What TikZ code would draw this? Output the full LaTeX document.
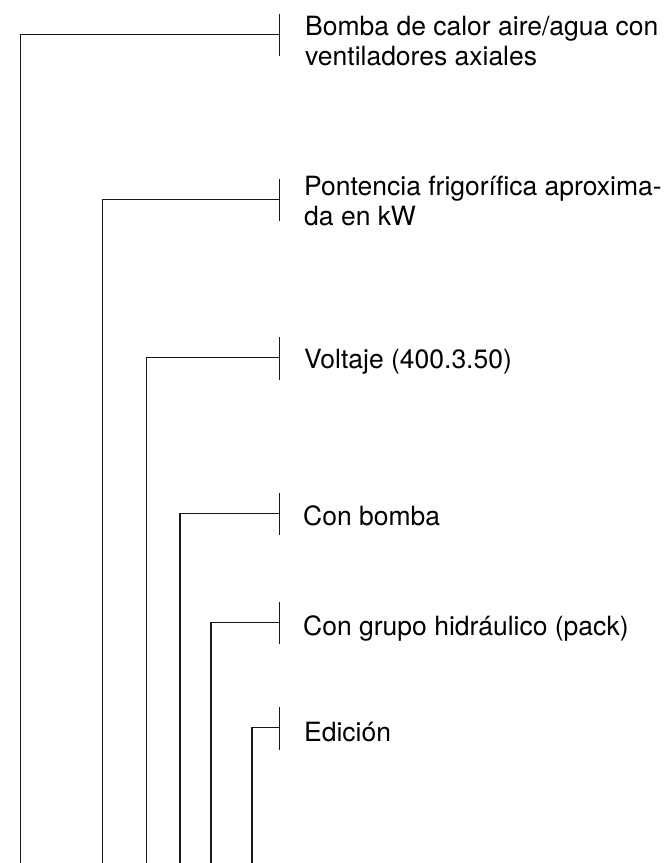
\documentclass[tikz,border=0pt]{standalone}
\usepackage{fontspec}
\setmainfont{TeX Gyre Heros}
\begin{document}
\begin{tikzpicture}[x=1pt,y=-1pt,
  conn/.style={line width=1.3pt, color=black!90},
  ticks/.style={line width=1.3pt, color=black!90},
  lbl/.style={anchor=base west, inner sep=0pt, font=\fontsize{26.5}{30}\selectfont, align=left}]
\useasboundingbox (0,0) rectangle (669,863);
% bottom ends
\coordinate (b1) at (20.7,863);
\coordinate (b2) at (102.3,863);
\coordinate (b3) at (146.5,863);
\coordinate (b4) at (180,863);
\coordinate (b5) at (211,863);
\coordinate (b6) at (252,863);
% tick points
\coordinate (k1) at (279.5,34.3);
\coordinate (k2) at (279.5,199.3);
\coordinate (k3) at (279.5,357.7);
\coordinate (k4) at (279.5,513.3);
\coordinate (k5) at (279.5,622.3);
\coordinate (k6) at (279.5,727.7);
% labels (base anchor = baseline of last line)
\node[lbl] (l1) at (305,65) {Bomba de calor aire/agua con\\ventiladores axiales};
\node[lbl] (l2) at (304,225) {Pontencia frigorífica aproxima-\\da en kW};
\node[lbl] (l3) at (304,368) {Voltaje (400.3.50)};
\node[lbl] (l4) at (303,525) {Con bomba};
\node[lbl] (l5) at (303,635) {Con grupo hidráulico (pack)};
\node[lbl] (l6) at (304,741) {Edición};
% connectors
\foreach \i in {1,...,6}{
  \draw[conn] (b\i) |- (k\i);
  \draw[ticks] ([yshift=20.5pt]k\i) -- ([yshift=-22pt]k\i);
}
\end{tikzpicture}
\end{document}
